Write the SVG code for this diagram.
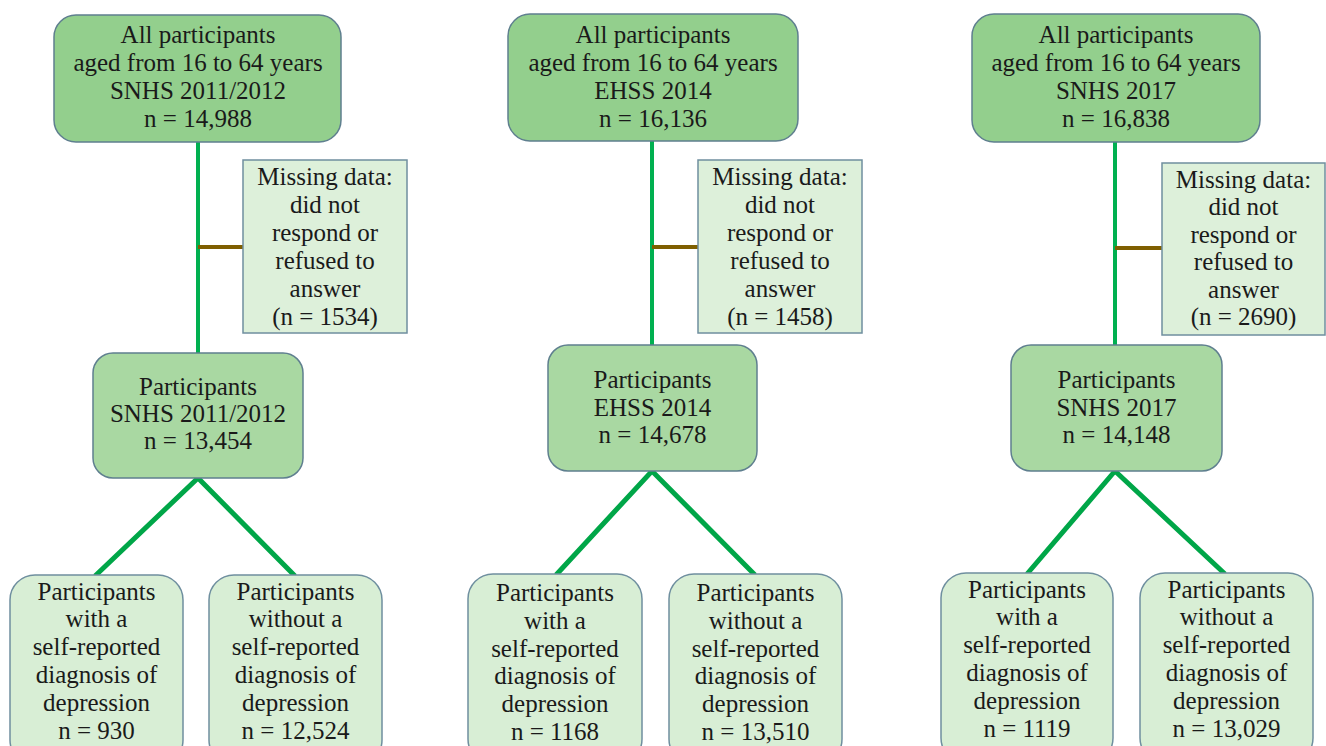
<svg xmlns="http://www.w3.org/2000/svg" width="1326" height="746" viewBox="0 0 1326 746">
<style>
text{font-family:'Liberation Serif',serif;font-size:25px;fill:#1a1a1a;text-anchor:middle}
.top{fill:#93cf8d;stroke:#5f7f8f;stroke-width:1.5}
.mid{fill:#a9d8a2;stroke:#5f7f8f;stroke-width:1.5}
.bot{fill:#d8eed5;stroke:#6f8f9f;stroke-width:1.5}
.miss{fill:#ddf0da;stroke:#6f8f9f;stroke-width:1.5}
.v{stroke:#00b050;stroke-width:4;fill:none}
.d{stroke:#00a648;stroke-width:5;fill:none}
.b{stroke:#7f5f00;stroke-width:4;fill:none}
</style>
<rect width="1326" height="746" fill="#ffffff"/>
<g id="connectors">
<line class="v" x1="198" y1="141" x2="198" y2="354"/>
<line class="b" x1="198" y1="247" x2="243" y2="247"/>
<polyline class="d" points="95,576 198,478 295,576"/>
<line class="v" x1="652" y1="141" x2="652" y2="346"/>
<line class="b" x1="652" y1="247" x2="698" y2="247"/>
<polyline class="d" points="556,575 652,471 755,575"/>
<line class="v" x1="1115" y1="141" x2="1115" y2="346"/>
<line class="b" x1="1115" y1="248" x2="1162" y2="248"/>
<polyline class="d" points="1027,574 1115,471 1225,574"/>
</g>
<g id="top1"><rect class="top" x="54" y="15" width="287" height="127" rx="22"/>
<text x="198" y="43">All participants</text><text x="198" y="71">aged from 16 to 64 years</text><text x="198" y="99">SNHS 2011/2012</text><text x="198" y="127">n = 14,988</text></g>
<g id="miss1"><rect class="miss" x="243" y="160" width="164" height="173"/>
<text x="325" y="185">Missing data:</text><text x="325" y="213">did not</text><text x="325" y="241">respond or</text><text x="325" y="269">refused to</text><text x="325" y="297">answer</text><text x="325" y="325">(n = 1534)</text></g>
<g id="mid1"><rect class="mid" x="93" y="353" width="210" height="125" rx="20"/>
<text x="198" y="395">Participants</text><text x="198" y="422">SNHS 2011/2012</text><text x="198" y="449">n = 13,454</text></g>
<g id="bot1a"><rect class="bot" x="10" y="575" width="173" height="190" rx="25"/>
<text x="96.500" y="600">Participants</text><text x="96.500" y="627">with a</text><text x="96.500" y="655">self-reported</text><text x="96.500" y="683">diagnosis of</text><text x="96.500" y="711">depression</text><text x="96.500" y="739">n = 930</text></g>
<g id="bot1b"><rect class="bot" x="209" y="575" width="173" height="190" rx="25"/>
<text x="295.500" y="600">Participants</text><text x="295.500" y="627">without a</text><text x="295.500" y="655">self-reported</text><text x="295.500" y="683">diagnosis of</text><text x="295.500" y="711">depression</text><text x="295.500" y="739">n = 12,524</text></g>
<g id="top2"><rect class="top" x="508" y="14" width="290" height="127" rx="22"/>
<text x="653" y="43">All participants</text><text x="653" y="71">aged from 16 to 64 years</text><text x="653" y="99">EHSS 2014</text><text x="653" y="127">n = 16,136</text></g>
<g id="miss2"><rect class="miss" x="698" y="160" width="164" height="173"/>
<text x="780" y="185">Missing data:</text><text x="780" y="213">did not</text><text x="780" y="241">respond or</text><text x="780" y="269">refused to</text><text x="780" y="297">answer</text><text x="780" y="325">(n = 1458)</text></g>
<g id="mid2"><rect class="mid" x="548" y="345" width="209" height="126" rx="20"/>
<text x="652.500" y="388">Participants</text><text x="652.500" y="416">EHSS 2014</text><text x="652.500" y="443">n = 14,678</text></g>
<g id="bot2a"><rect class="bot" x="468" y="574" width="174" height="190" rx="25"/>
<text x="555" y="601">Participants</text><text x="555" y="629">with a</text><text x="555" y="657">self-reported</text><text x="555" y="684">diagnosis of</text><text x="555" y="712">depression</text><text x="555" y="740">n = 1168</text></g>
<g id="bot2b"><rect class="bot" x="669" y="574" width="173" height="190" rx="25"/>
<text x="755.500" y="601">Participants</text><text x="755.500" y="629">without a</text><text x="755.500" y="657">self-reported</text><text x="755.500" y="684">diagnosis of</text><text x="755.500" y="712">depression</text><text x="755.500" y="740">n = 13,510</text></g>
<g id="top3"><rect class="top" x="972" y="14" width="288" height="128" rx="22"/>
<text x="1116" y="43">All participants</text><text x="1116" y="71">aged from 16 to 64 years</text><text x="1116" y="99">SNHS 2017</text><text x="1116" y="127">n = 16,838</text></g>
<g id="miss3"><rect class="miss" x="1162" y="163" width="163" height="172"/>
<text x="1243.500" y="188">Missing data:</text><text x="1243.500" y="215.400">did not</text><text x="1243.500" y="242.800">respond or</text><text x="1243.500" y="270.200">refused to</text><text x="1243.500" y="297.600">answer</text><text x="1243.500" y="325">(n = 2690)</text></g>
<g id="mid3"><rect class="mid" x="1011" y="345" width="211" height="126" rx="20"/>
<text x="1116.500" y="388">Participants</text><text x="1116.500" y="416">SNHS 2017</text><text x="1116.500" y="443">n = 14,148</text></g>
<g id="bot3a"><rect class="bot" x="941" y="573" width="172" height="190" rx="25"/>
<text x="1027" y="598">Participants</text><text x="1027" y="625">with a</text><text x="1027" y="653">self-reported</text><text x="1027" y="681">diagnosis of</text><text x="1027" y="709">depression</text><text x="1027" y="737">n = 1119</text></g>
<g id="bot3b"><rect class="bot" x="1140" y="573" width="173" height="190" rx="25"/>
<text x="1226.500" y="598">Participants</text><text x="1226.500" y="625">without a</text><text x="1226.500" y="653">self-reported</text><text x="1226.500" y="681">diagnosis of</text><text x="1226.500" y="709">depression</text><text x="1226.500" y="737">n = 13,029</text></g>
</svg>
